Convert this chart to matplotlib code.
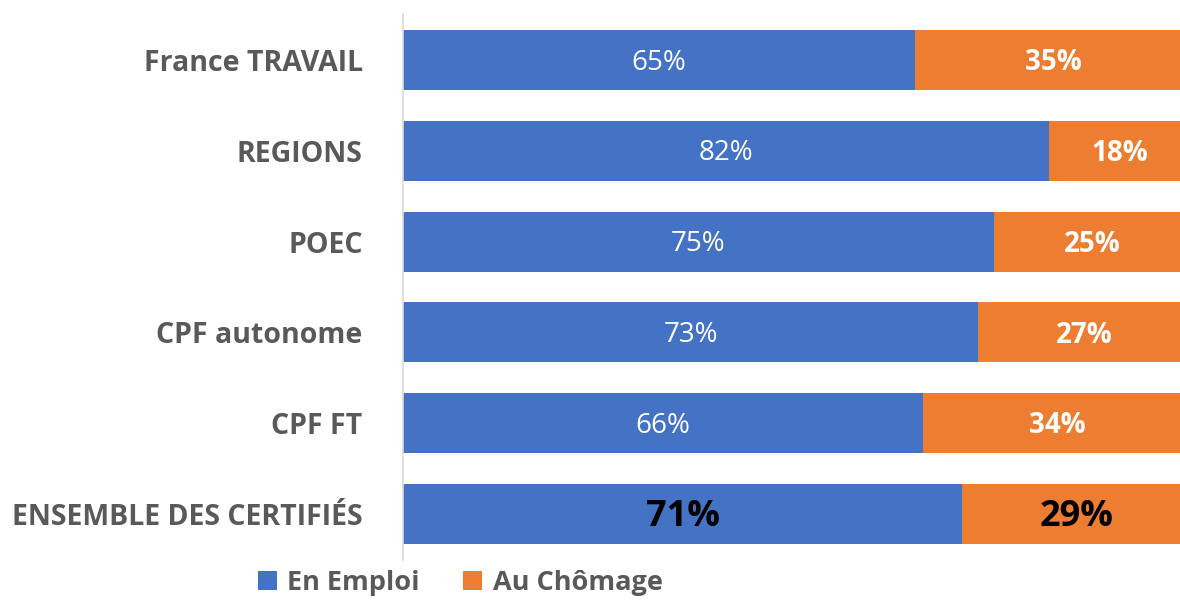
import numpy as np
import matplotlib.pyplot as plt

# data
categories = ["France TRAVAIL", "REGIONS", "POEC", "CPF autonome", "CPF FT",
              "ENSEMBLE DES CERTIFIÉS"]
en_emploi = [65, 82, 75, 73, 66, 71]
au_chomage = [35, 18, 25, 27, 34, 29]
series_names = ["En Emploi", "Au Chômage"]

BLUE = "#4472C4"
ORANGE = "#ED7D31"
GREY = "#595959"

plt.rcParams['font.family'] = ['Open Sans', 'DejaVu Sans']

fig = plt.figure(figsize=(11.8, 6.01), dpi=100)
ax = fig.add_axes([403 / 1180, 1 - 559.5 / 601, 788 / 1180, 545 / 601])

y = np.arange(len(categories))
h = 0.66
b1 = ax.barh(y, en_emploi, height=h, color=BLUE, label=series_names[0])
b2 = ax.barh(y, au_chomage, left=en_emploi, height=h, color=ORANGE,
             label=series_names[1])

last = len(categories) - 1
for i in range(len(categories)):
    if i == last:
        kw1 = dict(color="black", fontsize=26, fontweight="bold")
        kw2 = dict(color="black", fontsize=26, fontweight="bold")
    else:
        kw1 = dict(color="white", fontsize=20)
        kw2 = dict(color="white", fontsize=20, fontweight="bold")
    ax.text(en_emploi[i] / 2, y[i] + 0.03, f"{en_emploi[i]}%", ha="center",
            va="center", **kw1)
    ax.text(en_emploi[i] + au_chomage[i] / 2, y[i] + 0.03, f"{au_chomage[i]}%",
            ha="center", va="center", **kw2)

ax.set_xlim(0, 100)
ax.set_ylim(len(categories) - 0.5, -0.5)
ax.set_yticks(y)
ax.set_yticklabels(categories, fontsize=20.5, fontweight="bold", color=GREY)
ax.tick_params(axis="y", length=0, pad=29)
ax.set_xticks([])
for s in ["top", "right", "bottom"]:
    ax.spines[s].set_visible(False)
ax.spines["left"].set_color("#D9D9D9")
ax.spines["left"].set_linewidth(1.2)

leg = fig.legend(handles=[b1, b2], loc="center", bbox_to_anchor=(0.39, 0.03),
                 ncol=2, frameon=False, handlelength=0.7, handleheight=0.7,
                 handletextpad=0.4, columnspacing=1.6, borderpad=0.1,
                 prop={"size": 19.5, "weight": "bold"})
for t in leg.get_texts():
    t.set_color(GREY)

fig.savefig("out.png", dpi=100)
